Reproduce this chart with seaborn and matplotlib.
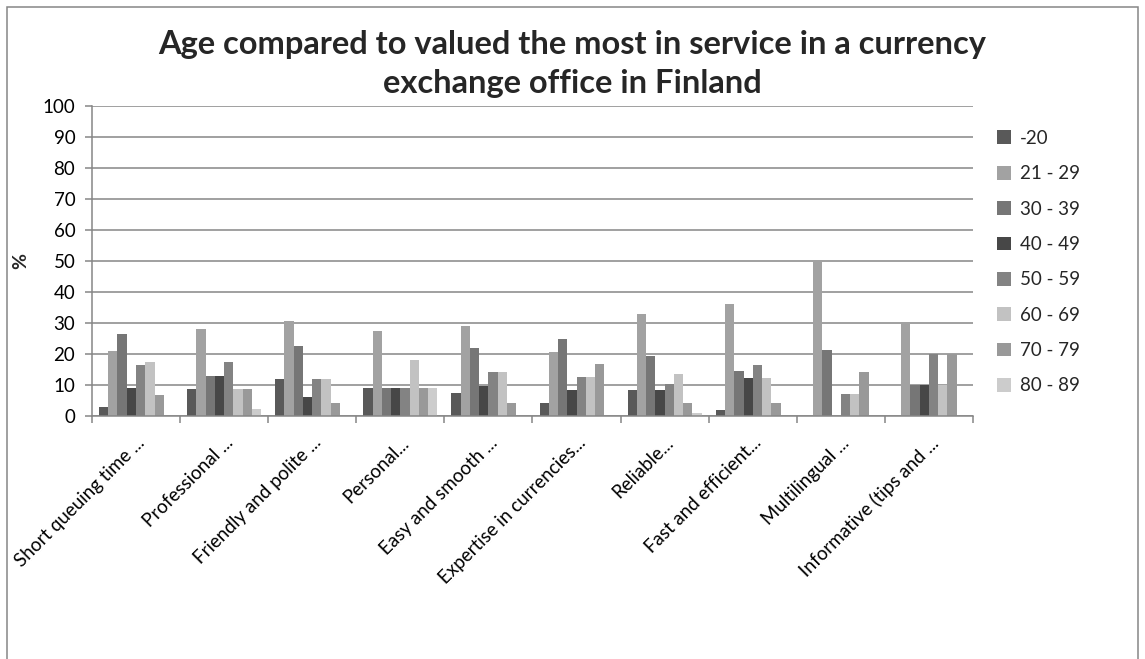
import matplotlib
matplotlib.use("Agg")
import matplotlib.pyplot as plt
import seaborn as sns
import pandas as pd
from matplotlib.patches import Rectangle

# Service aspects (x categories)
categories = [
    "Short queuing time ...",
    "Professional ...",
    "Friendly and polite ...",
    "Personal...",
    "Easy and smooth ...",
    "Expertise in currencies...",
    "Reliable...",
    "Fast and efficient...",
    "Multilingual ...",
    "Informative (tips and ...",
]

# Share (%) of each age group per service aspect
age_groups = ["-20", "21 - 29", "30 - 39", "40 - 49", "50 - 59", "60 - 69", "70 - 79", "80 - 89"]
s_under20 = [2.9, 8.8, 11.9, 9.1, 7.3, 4.2, 8.5, 2.1, 0.0, 0.0]
s_21_29 = [21.1, 28.0, 30.7, 27.3, 29.1, 20.8, 32.9, 36.1, 50.0, 30.0]
s_30_39 = [26.5, 13.0, 22.7, 9.1, 22.1, 25.0, 19.3, 14.5, 21.4, 10.0]
s_40_49 = [9.2, 13.0, 6.0, 9.1, 9.8, 8.3, 8.5, 12.3, 0.0, 10.0]
s_50_59 = [16.3, 17.3, 11.9, 9.1, 14.1, 12.5, 10.2, 16.6, 7.1, 20.0]
s_60_69 = [17.3, 8.8, 11.9, 18.2, 14.1, 12.5, 13.4, 12.3, 7.1, 10.0]
s_70_79 = [6.7, 8.8, 4.1, 9.1, 4.1, 16.7, 4.2, 4.2, 14.3, 20.0]
s_80_89 = [0.0, 2.4, 0.0, 9.1, 0.0, 0.0, 1.0, 0.0, 0.0, 0.0]

series = [s_under20, s_21_29, s_30_39, s_40_49, s_50_59, s_60_69, s_70_79, s_80_89]
y_ticks = list(range(0, 101, 10))

grey_palette = ["#595959", "#a2a2a2", "#767676", "#474747",
                "#838383", "#c2c2c2", "#999999", "#cccccc"]

rows = []
for grp, vals in zip(age_groups, series):
    for cat, v in zip(categories, vals):
        rows.append({"aspect": cat, "age": grp, "pct": v})
df = pd.DataFrame(rows)

sns.set_theme(style="white")
plt.rcParams["font.family"] = ["Lato", "DejaVu Sans"]

fig = plt.figure(figsize=(11.45, 6.59), dpi=100)
ax = fig.add_axes([0.0803, 0.3687, 0.7695, 0.4704])

axis_grey = "#868686"

sns.barplot(data=df, x="aspect", y="pct", hue="age", order=categories,
            hue_order=age_groups, palette=grey_palette, width=0.84,
            saturation=1, linewidth=0, ax=ax, legend=True)

ax.set_ylim(0, 100)
ax.set_xlim(-0.5, len(categories) - 0.5)
ax.set_yticks(y_ticks)
ax.yaxis.grid(True, color=axis_grey, linewidth=1.1)
ax.xaxis.grid(False)
ax.set_axisbelow(True)

for side in ["top", "right"]:
    ax.spines[side].set_visible(False)
for side in ["left", "bottom"]:
    ax.spines[side].set_color(axis_grey)
    ax.spines[side].set_linewidth(1.1)

ax.tick_params(axis="y", which="major", left=True, length=5, width=1.1,
               color=axis_grey, labelsize=13.5, pad=7, labelcolor="black")
ax.set_xticks(range(len(categories)))
ax.set_xticklabels(categories, rotation=45, ha="right", rotation_mode="anchor",
                   fontsize=13.5)
ax.tick_params(axis="x", which="major", bottom=False, length=0, pad=13,
               labelcolor="black")
ax.set_xticks([i - 0.5 for i in range(len(categories) + 1)], minor=True)
ax.tick_params(axis="x", which="minor", bottom=True, length=5, width=1.1,
               color=axis_grey)

ax.set_xlabel("")
ax.set_ylabel("%", fontsize=14, fontweight="bold")
ax.yaxis.set_label_coords(-0.071, 0.5)

handles, labels = ax.get_legend_handles_labels()
ax.get_legend().remove()
fig.legend(handles, labels, loc="upper left", bbox_to_anchor=(0.871, 0.803),
           frameon=False, fontsize=13.5, handlelength=0.75, handleheight=0.75,
           handletextpad=0.45, labelspacing=0.98, borderpad=0, borderaxespad=0)

fig.text(0.5, 0.903, "Age compared to valued the most in service in a currency\nexchange office in Finland",
         ha="center", va="center", fontsize=23.5, fontweight="bold",
         linespacing=1.42)

fig.add_artist(Rectangle((0.006, -0.01), 0.988, 0.999, transform=fig.transFigure,
                         fill=False, edgecolor=axis_grey, linewidth=1.1))

fig.savefig("out.png", dpi=100)
